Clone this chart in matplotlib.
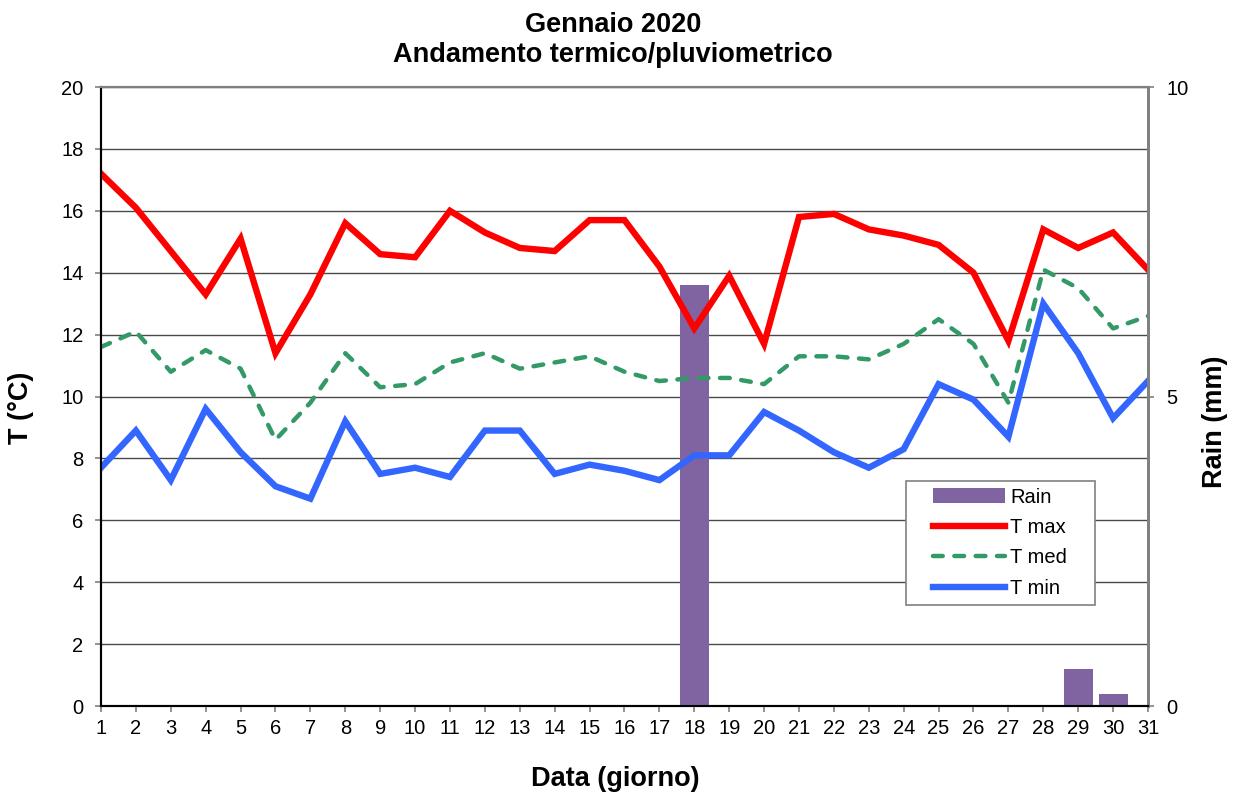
import matplotlib.pyplot as plt
from matplotlib.patches import Rectangle
from matplotlib.ticker import MultipleLocator

plt.rcParams['font.family'] = ['Liberation Sans', 'DejaVu Sans']

# Data
days = list(range(1, 32))
t_max = [17.2, 16.1, 14.7, 13.3, 15.1, 11.4, 13.3, 15.6, 14.6, 14.5, 16.0,
         15.3, 14.8, 14.7, 15.7, 15.7, 14.2, 12.2, 13.9, 11.7, 15.8, 15.9,
         15.4, 15.2, 14.9, 14.0, 11.8, 15.4, 14.8, 15.3, 14.1]
t_med = [11.6, 12.1, 10.8, 11.5, 10.9, 8.6, 9.8, 11.4, 10.3, 10.4, 11.1,
         11.4, 10.9, 11.1, 11.3, 10.8, 10.5, 10.6, 10.6, 10.4, 11.3, 11.3,
         11.2, 11.7, 12.5, 11.7, 9.8, 14.1, 13.5, 12.2, 12.6]
t_min = [7.7, 8.9, 7.3, 9.6, 8.2, 7.1, 6.7, 9.2, 7.5, 7.7, 7.4, 8.9, 8.9,
         7.5, 7.8, 7.6, 7.3, 8.1, 8.1, 9.5, 8.9, 8.2, 7.7, 8.3, 10.4, 9.9,
         8.7, 13.0, 11.4, 9.3, 10.5]
rain = [0] * 17 + [6.8] + [0] * 10 + [0.6, 0.2, 0]

colors = {'max': '#FF0000', 'med': '#339966', 'min': '#3366FF',
          'rain': '#8064A2', 'bg': '#C0C0C0'}

fig = plt.figure(figsize=(12.36, 7.94), dpi=100, facecolor='white')
ax = fig.add_axes([0.0817, 0.1108, 0.8471, 0.7796])
ax2 = ax.twinx()

# rain axis goes underneath, temperature lines on top
ax.set_zorder(ax2.get_zorder() + 1)
ax.patch.set_visible(False)
ax2.set_facecolor(colors['bg'])

bars = ax2.bar(days, rain, width=0.83, color=colors['rain'], label='Rain', zorder=3)
ax2.set_ylim(0, 10)
ax2.yaxis.set_major_locator(MultipleLocator(5))
ax2.yaxis.set_minor_locator(MultipleLocator(1))
ax2.grid(which='both', axis='y', color='#4a4a4a', linewidth=1.0, zorder=1)
ax2.set_axisbelow(True)
ax2.tick_params(axis='y', which='minor', length=0)
ax2.tick_params(axis='y', which='major', labelsize=14.5, length=4.5, width=1.2,
                color='#808080', pad=9)
ax2.set_ylabel('Rain (mm)', fontsize=19.5, fontweight='bold')
ax2.yaxis.set_label_coords(1.0516, 0.46)

l1, = ax.plot(days, t_max, color=colors['max'], linewidth=4.6,
              solid_joinstyle='miter', label='T max')
l2, = ax.plot(days, t_med, color=colors['med'], linewidth=3.2,
              dashes=(2.2, 2.6), dash_capstyle='round', label='T med')
l3, = ax.plot(days, t_min, color=colors['min'], linewidth=4.6,
              solid_joinstyle='miter', label='T min')

ax.set_xlim(1, 31)
ax.set_ylim(0, 20)
ax.set_xticks(days)
ax.yaxis.set_major_locator(MultipleLocator(2))
ax.tick_params(axis='both', labelsize=14.5, length=4.5, width=1.2, color='#808080')
ax.tick_params(axis='x', pad=5)
ax.tick_params(axis='y', pad=8)

for a in (ax, ax2):
    a.spines['left'].set_color('black')
    a.spines['bottom'].set_color('black')
    a.spines['left'].set_linewidth(1.5)
    a.spines['bottom'].set_linewidth(1.5)
    a.spines['right'].set_color('#808080')
    a.spines['top'].set_color('#808080')
    a.spines['right'].set_linewidth(2)
    a.spines['top'].set_linewidth(1.5)

ax.set_xlabel('Data (giorno)', fontsize=19.5, fontweight='bold')
ax.xaxis.set_label_coords(0.491, -0.097)
ax.set_ylabel('T (°C)', fontsize=19.5, fontweight='bold')
ax.yaxis.set_label_coords(-0.064, 0.481)

fig.text(0.496, 0.9496, 'Gennaio 2020\nAndamento termico/pluviometrico',
         ha='center', va='center', fontsize=19.5, fontweight='bold',
         linespacing=1.22)

# legend box (Excel style, wide side padding)
ax.add_patch(Rectangle((0.769, 0.163), 0.1805, 0.2005, transform=ax.transAxes,
                       facecolor='white', edgecolor='#808080', linewidth=1.2,
                       zorder=10))
leg = ax.legend([bars, l1, l2, l3], ['Rain', 'T max', 'T med', 'T min'],
                loc='upper left', bbox_to_anchor=(0.7944, 0.353),
                fontsize=14.5, frameon=False, handlelength=3.58,
                labelspacing=0.57, borderpad=0, handletextpad=0.28,
                borderaxespad=0)
leg.set_zorder(11)

plt.savefig('out.png', dpi=100, facecolor='white')
